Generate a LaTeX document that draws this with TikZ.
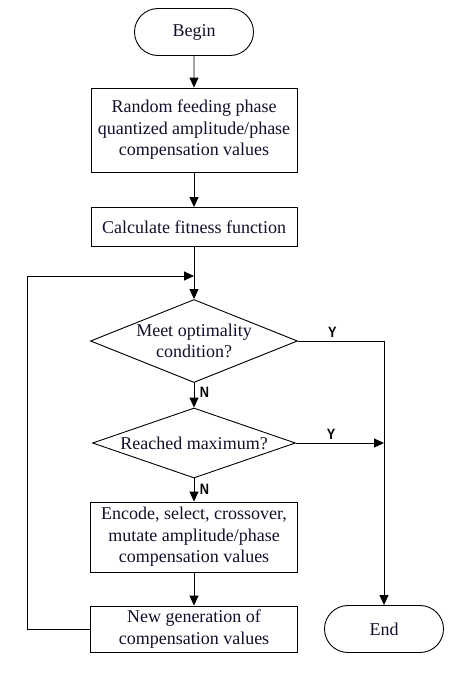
\documentclass[tikz,border=0pt]{standalone}
\usepackage{fontspec}
\setmainfont{Liberation Serif}
\newfontfamily\yn{Liberation Sans}
\usetikzlibrary{shapes.geometric,shapes.misc,arrows.meta}
\definecolor{ink}{HTML}{10102A}
\begin{document}
\begin{tikzpicture}[x=1pt,y=-1pt,
  every node/.style={font=\fontsize{18}{21.5}\selectfont, text=ink},
  box/.style={draw, line width=0.9pt, rectangle, inner sep=0pt, align=center},
  term/.style={draw, line width=0.9pt, rounded rectangle, inner sep=0pt, minimum width=119pt, minimum height=47pt},
  dec/.style={draw, line width=0.9pt, diamond, inner sep=0pt, align=center},
  lab/.style={font=\yn\bfseries\fontsize{15}{15}\selectfont, text=black, xscale=0.85},
  conn/.style={line width=0.9pt, -{Triangle[length=10pt,width=9pt]}},
  plain/.style={line width=0.9pt}]
\useasboundingbox (0,0) rectangle (469,675);
\node[term] (begin) at (194,32) {Begin};
\node[box, minimum width=206pt, minimum height=84pt] (init) at (194,130) {Random feeding phase\\quantized amplitude/phase\\compensation values};
\node[box, minimum width=206pt, minimum height=39pt] (fit) at (194,227) {Calculate fitness function};
\coordinate (merge) at (194,276);
\node[dec, aspect=2.5, minimum width=207pt, minimum height=83pt] (opt) at (194,341) {Meet optimality\\condition?};
\node[dec, aspect=2.9, minimum width=203pt, minimum height=70pt] (max) at (194,443) {Reached maximum?};
\node[box, minimum width=207pt, minimum height=70pt] (enc) at (194,537) {Encode, select, crossover,\\mutate amplitude/phase\\compensation values};
\node[box, minimum width=207pt, minimum height=46pt] (gen) at (194,629) {New generation of\\compensation values};
\node[term] (end) at (384,629) {End};
\coordinate (corner) at (384,341);
\coordinate (maxy) at (384,443);
\coordinate (loopb) at (27,629);
\coordinate (loopt) at (27,276);

\draw[conn] (begin) -- (init);
\draw[conn] (init) -- (fit);
\draw[plain] (fit) -- (merge);
\draw[conn] (merge) -- (opt);
\draw[conn] (opt) -- node[lab, right, xshift=3pt, yshift=3pt] (n1) {N} (max);
\draw[conn] (max) -- node[lab, right, xshift=3pt, yshift=1pt] (n2) {N} (enc);
\draw[conn] (enc) -- (gen);
\draw[plain] (opt.east) -- node[lab, above, pos=0.4] (y1) {Y} (corner);
\draw[conn] (corner) -- (end);
\draw[conn] (max.east) -- node[lab, above, pos=0.4] (y2) {Y} (maxy);
\draw[conn] (gen.west) -- (loopb) -- (loopt) -- (merge);
\end{tikzpicture}
\end{document}
